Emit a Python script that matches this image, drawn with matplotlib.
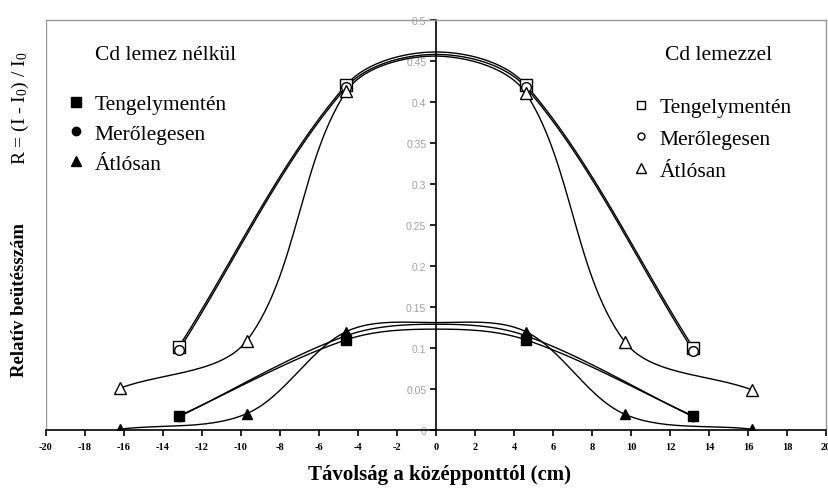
import numpy as np
import matplotlib
matplotlib.use("Agg")
import matplotlib.pyplot as plt
from matplotlib.lines import Line2D

plt.rcParams['font.family'] = ['Liberation Serif', 'DejaVu Serif']
plt.rcParams['axes.unicode_minus'] = False
plt.rcParams['mathtext.fontset'] = 'custom'
plt.rcParams['mathtext.rm'] = 'Liberation Serif'
plt.rcParams['mathtext.it'] = 'Liberation Serif:italic'
plt.rcParams['mathtext.bf'] = 'Liberation Serif:bold'

# distance from centre (cm)
x_axis = [-13.2, -4.6, 0, 4.6, 13.2]
x_diag = [-16.2, -9.7, -4.6, 0, 4.6, 9.7, 16.2]

# without Cd plate (filled markers)
teng_nelkul = [0.017, 0.110, 0.123, 0.110, 0.017]
mero_nelkul = [0.016, 0.115, 0.129, 0.115, 0.016]
atlo_nelkul = [0.001, 0.020, 0.120, 0.131, 0.120, 0.019, 0.001]

# with Cd plate (open markers)
teng_vel = [0.101, 0.421, 0.461, 0.421, 0.100]
mero_vel = [0.097, 0.418, 0.458, 0.418, 0.096]
atlo_vel = [0.051, 0.109, 0.413, 0.456, 0.411, 0.107, 0.049]

labels = ["Tengelymentén", "Merőlegesen", "Átlósan"]
xticks = list(range(-20, 21, 2))
yticks = [0, 0.05, 0.1, 0.15, 0.2, 0.25, 0.3, 0.35, 0.4, 0.45, 0.5]
ytick_labels = ["0", "0.05", "0.1", "0.15", "0.2", "0.25", "0.3", "0.35", "0.4", "0.45", "0.5"]

# pixel scale used for the smoothing (px per data unit)
SX, SY = 19.5, 820.0


def smooth(xs, ys, n=30):
    # smoothed line through the points, chord-weighted Bezier tangents
    p = np.column_stack([np.array(xs) * SX, np.array(ys) * SY])
    m = len(p)
    tang = np.zeros_like(p)
    for i in range(m):
        a = p[max(i - 1, 0)]
        b = p[min(i + 1, m - 1)]
        tang[i] = b - a
    t = np.linspace(0, 1, n)[:, None]
    out = []
    for i in range(m - 1):
        p1, p2 = p[i], p[i + 1]
        d = np.hypot(*(p2 - p1))
        d_prev = np.hypot(*(p1 - p[i - 1])) if i > 0 else d
        d_next = np.hypot(*(p[i + 2] - p2)) if i + 2 < m else d
        k1 = d / (d_prev + d) / 3 if i > 0 else 1 / 3
        k2 = d / (d + d_next) / 3 if i + 2 < m else 1 / 3
        c1 = p1 + tang[i] * k1
        c2 = p2 - tang[i + 1] * k2
        out.append((1 - t) ** 3 * p1 + 3 * (1 - t) ** 2 * t * c1
                   + 3 * (1 - t) * t ** 2 * c2 + t ** 3 * p2)
    c = np.vstack(out)
    return c[:, 0] / SX, c[:, 1] / SY


fig = plt.figure(figsize=(8.29, 4.89), dpi=100)
ax = fig.add_axes([46 / 829, 58 / 489, 780 / 829, 410 / 489])

series = [
    (x_axis, teng_nelkul, 's', 'black', 7),
    (x_axis, mero_nelkul, 'o', 'black', 6),
    (x_diag, atlo_nelkul, '^', 'black', 7),
    (x_axis, teng_vel, 's', 'white', 8),
    (x_axis, mero_vel, 'o', 'white', 7),
    (x_diag, atlo_vel, '^', 'white', 8),
]
for xs, ys, m, fc, ms in series:
    cx, cy = smooth(xs, ys)
    ax.plot(cx, cy, color='black', lw=1.0, zorder=2)
    # the centre point has no visible marker in the original
    mx = [x for x in xs if x != 0]
    my = [y for x, y in zip(xs, ys) if x != 0]
    ax.plot(mx, my, ls='none', marker=m, ms=ms, mfc=fc, mec='black',
            mew=1.0, zorder=3)

ax.set_xlim(-20, 20)
ax.set_ylim(0, 0.5)
ax.set_xticks(xticks)
ax.set_yticks(yticks)
ax.set_yticklabels(ytick_labels)

ax.spines['left'].set_position(('data', 0))
ax.spines['left'].set_color('black')
ax.spines['left'].set_linewidth(1.2)
ax.spines['bottom'].set_linewidth(1.2)
for s in ['top', 'right']:
    ax.spines[s].set_color('#999999')
    ax.spines[s].set_linewidth(1.0)
ax.axvline(-20, color='#999999', lw=1.0, zorder=1)

ax.tick_params(axis='x', direction='out', length=4, width=1.2,
               labelsize=7.5, pad=5)
ax.tick_params(axis='y', direction='out', length=4, width=1.2,
               labelsize=7.5, labelcolor='#a0a0a0', pad=3)
for lab in ax.get_xticklabels():
    lab.set_fontweight('bold')
for lab in ax.get_yticklabels():
    lab.set_family('Liberation Sans')

# legends
h_left = [Line2D([], [], ls='none', marker='s', ms=7, mfc='black', mec='black'),
          Line2D([], [], ls='none', marker='o', ms=6, mfc='black', mec='black'),
          Line2D([], [], ls='none', marker='^', ms=7, mfc='black', mec='black')]
h_right = [Line2D([], [], ls='none', marker='s', ms=6, mfc='white', mec='black'),
           Line2D([], [], ls='none', marker='o', ms=5, mfc='white', mec='black'),
           Line2D([], [], ls='none', marker='^', ms=7, mfc='white', mec='black')]

fig.legend(h_left, labels, loc='upper left',
           bbox_to_anchor=(68 / 829, 1 - 95 / 489), frameon=False,
           fontsize=15.5, handlelength=0.7, handletextpad=0.55,
           labelspacing=0.45, borderpad=0, borderaxespad=0)
fig.legend(h_right, labels, loc='upper left',
           bbox_to_anchor=(633 / 829, 1 - 98 / 489), frameon=False,
           fontsize=15.5, handlelength=0.7, handletextpad=0.55,
           labelspacing=0.55, borderpad=0, borderaxespad=0)

fig.text(166 / 829, 1 - 55 / 489, "Cd lemez nélkül", ha='center', va='center',
         fontsize=15.5)
fig.text(719 / 829, 1 - 55 / 489, "Cd lemezzel", ha='center', va='center',
         fontsize=15.5)

fig.text(20 / 829, 1 - 300 / 489, "Relatív beütésszám", rotation=90,
         ha='center', va='center', fontsize=13.5, fontweight='bold')
fig.text(20 / 829, 1 - 108 / 489, "R = (I - I$_0$) / I$_0$", rotation=90,
         ha='center', va='center', fontsize=14)
fig.text(440 / 829, 1 - 475 / 489, "Távolság a középponttól (cm)",
         ha='center', va='center', fontsize=15, fontweight='bold')

fig.savefig("out.png", dpi=100)
